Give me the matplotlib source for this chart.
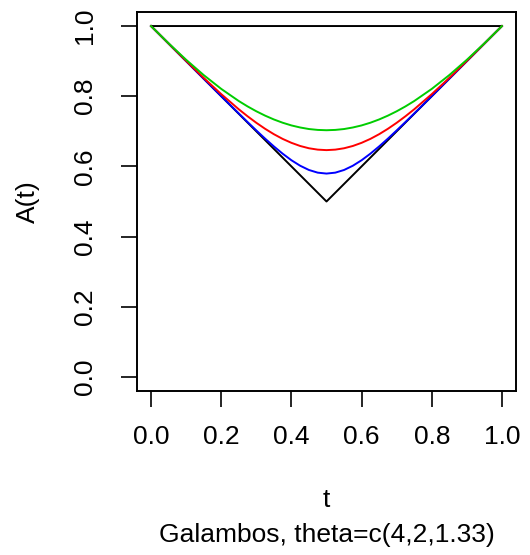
import matplotlib
matplotlib.use("Agg")
import matplotlib.pyplot as plt

plt.rcParams['font.family'] = ['Liberation Sans', 'DejaVu Sans']

t = [0.000, 0.050, 0.100, 0.150, 0.200, 0.250, 0.275, 0.300, 0.325, 0.350, 0.375,
     0.400, 0.425, 0.450, 0.475, 0.500, 0.525, 0.550, 0.575, 0.600, 0.625,
     0.650, 0.675, 0.700, 0.725, 0.750, 0.800, 0.850, 0.900, 0.950, 1.000]
# theta = 4 (blue)
a_theta4 = [1.0000, 0.9500, 0.9000, 0.8500, 0.8002, 0.7508, 0.7264, 0.7025, 0.6792, 0.6570, 0.6363,
            0.6176, 0.6019, 0.5898, 0.5822, 0.5796, 0.5822, 0.5898, 0.6019, 0.6176, 0.6363,
            0.6570, 0.6792, 0.7025, 0.7264, 0.7508, 0.8002, 0.8500, 0.9000, 0.9500, 1.0000]
# theta = 2 (red)
a_theta2 = [1.0000, 0.9501, 0.9006, 0.8523, 0.8060, 0.7628, 0.7429, 0.7243, 0.7072, 0.6918, 0.6784,
            0.6672, 0.6582, 0.6517, 0.6478, 0.6464, 0.6478, 0.6517, 0.6582, 0.6672, 0.6784,
            0.6918, 0.7072, 0.7243, 0.7429, 0.7628, 0.8060, 0.8523, 0.9006, 0.9501, 1.0000]
# theta = 1.33 (green)
a_theta133 = [1.0000, 0.9507, 0.9039, 0.8603, 0.8209, 0.7863, 0.7710, 0.7571, 0.7447, 0.7338, 0.7245,
              0.7168, 0.7109, 0.7065, 0.7040, 0.7031, 0.7040, 0.7065, 0.7109, 0.7168, 0.7245,
              0.7338, 0.7447, 0.7571, 0.7710, 0.7863, 0.8209, 0.8603, 0.9039, 0.9507, 1.0000]
# bounds: triangle
tri_t = [0.0, 0.5, 1.0, 0.0]
tri_a = [1.0, 0.5, 1.0, 1.0]

xticks = [0.0, 0.2, 0.4, 0.6, 0.8, 1.0]
yticks = [0.0, 0.2, 0.4, 0.6, 0.8, 1.0]

fig = plt.figure(figsize=(5.30, 5.55), dpi=100)
ax = fig.add_axes([137/530, 1 - 391/555, (516-137)/530, (391-12)/555])

ax.plot(tri_t, tri_a, color='black', lw=1.4)
ax.plot(t, a_theta4, color='#0000FF', lw=1.4)
ax.plot(t, a_theta2, color='#FF0000', lw=1.4)
ax.plot(t, a_theta133, color='#00CD00', lw=1.4)

ax.set_xlim(-0.04, 1.04)
ax.set_ylim(-0.04, 1.04)
ax.set_xticks(xticks)
ax.set_xticklabels([f"{v:.1f}" for v in xticks])
ax.set_yticks(yticks)
ax.set_yticklabels([f"{v:.1f}" for v in yticks], rotation=90, va='center')
ax.tick_params(axis='both', length=11.5, width=1.2, labelsize=19)
ax.tick_params(axis='x', pad=13)
ax.tick_params(axis='y', pad=17)
for s in ax.spines.values():
    s.set_linewidth(1.4)

fig.text(28/530, 1 - 202/555, "A(t)", rotation=90, ha='center', va='center', fontsize=19)
fig.text((137+516)/2/530, 1 - 500/555, "t", ha='center', va='center', fontsize=19)
fig.text((137+516)/2/530, 1 - 535/555, "Galambos, theta=c(4,2,1.33)", ha='center', va='center', fontsize=19)

fig.savefig("out.png", dpi=100)
